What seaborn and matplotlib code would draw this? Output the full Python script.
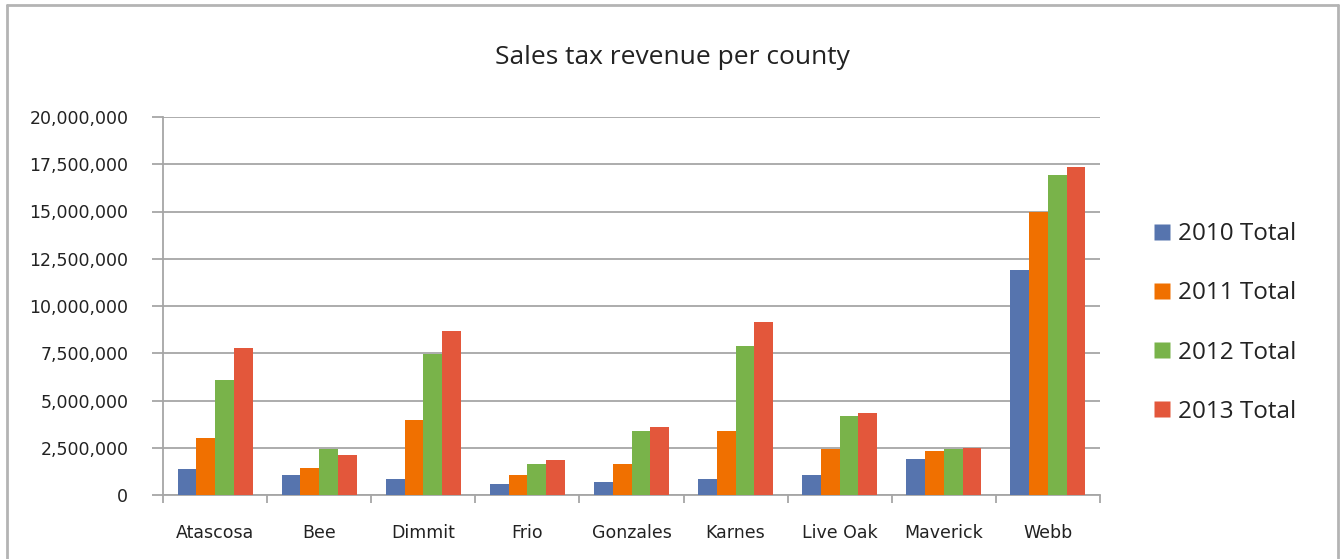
import matplotlib
matplotlib.use("Agg")
import matplotlib.pyplot as plt
from matplotlib.lines import Line2D
import seaborn as sns
import pandas as pd

counties = ["Atascosa", "Bee", "Dimmit", "Frio", "Gonzales", "Karnes",
            "Live Oak", "Maverick", "Webb"]
series_names = ["2010 Total", "2011 Total", "2012 Total", "2013 Total"]
total_2010 = [1350000, 1070000, 860000, 580000, 670000, 860000, 1050000, 1930000, 11880000]
total_2011 = [3020000, 1440000, 3980000, 1050000, 1630000, 3380000, 2420000, 2320000, 14960000]
total_2012 = [6100000, 2460000, 7470000, 1630000, 3380000, 7880000, 4160000, 2460000, 16930000]
total_2013 = [7770000, 2140000, 8670000, 1830000, 3580000, 9140000, 4350000, 2510000, 17350000]
y_ticks = [0, 2500000, 5000000, 7500000, 10000000, 12500000, 15000000, 17500000, 20000000]

colors = ["#5674AE", "#F07000", "#79B34A", "#E3573B"]

rows = []
for name, vals in zip(series_names, [total_2010, total_2011, total_2012, total_2013]):
    for c, v in zip(counties, vals):
        rows.append({"County": c, "Series": name, "Revenue": v})
df = pd.DataFrame(rows)

sns.set_theme(style="white")
plt.rcParams["font.family"] = ["DejaVu Sans"]

fig = plt.figure(figsize=(13.4, 5.59), dpi=100)
ax = fig.add_axes([163 / 1340, 64 / 559, 937 / 1340, 378 / 559])

sns.barplot(data=df, x="County", y="Revenue", hue="Series", order=counties,
            hue_order=series_names, palette=colors, width=0.72, gap=0,
            saturation=1, errorbar=None, ax=ax, legend=False, zorder=3,
            edgecolor="none")

ax.set_xlim(-0.5, len(counties) - 0.5)
ax.set_ylim(0, 20000000)
ax.set_yticks(y_ticks)
ax.set_yticklabels([f"{v:,}" for v in y_ticks], fontsize=12.5, color="#222222")
ax.set_xticks(range(len(counties)))
ax.set_xticklabels(counties, fontsize=12.5, color="#222222")
ax.set_xlabel("")
ax.set_ylabel("")

grid_col = "#A6A6A6"
ax.yaxis.grid(True, color=grid_col, linewidth=1.3, zorder=0)
ax.set_axisbelow(True)
for side in ["top", "right"]:
    ax.spines[side].set_visible(False)
for side in ["left", "bottom"]:
    ax.spines[side].set_color(grid_col)
    ax.spines[side].set_linewidth(1.3)

ax.tick_params(axis="y", length=8, width=1.3, color=grid_col, pad=17, direction="out", left=True)
ax.tick_params(axis="x", length=0, pad=21)
# category boundary ticks on the x axis
ax.set_xticks([i - 0.5 for i in range(len(counties) + 1)], minor=True)
ax.tick_params(axis="x", which="minor", length=6, width=1.3, color=grid_col, bottom=True)

fig.text(672 / 1340, 1 - 58 / 559, "Sales tax revenue per county",
         ha="center", va="center", fontsize=19, family="Open Sans", color="#222222")

handles = [Line2D([0], [0], marker="s", linestyle="none", markersize=12,
                  markerfacecolor=c, markeredgecolor="none") for c in colors]
fig.legend(handles, series_names, loc="center left",
           bbox_to_anchor=(1134 / 1340, 1 - 323 / 559), frameon=False,
           prop={"family": "Open Sans", "size": 17.5}, labelspacing=1.45,
           handletextpad=0.2, handlelength=0.9, borderpad=0.2,
           labelcolor="#222222")

# outer chart frame
frame_col = "#B4B4B4"
fig.add_artist(Line2D([7 / 1340, 7 / 1340], [0, 1 - 5 / 559], color=frame_col, lw=2, transform=fig.transFigure))
fig.add_artist(Line2D([7 / 1340, 1338 / 1340], [1 - 5 / 559, 1 - 5 / 559], color=frame_col, lw=2, transform=fig.transFigure))
fig.add_artist(Line2D([1338 / 1340, 1338 / 1340], [0, 1 - 5 / 559], color=frame_col, lw=2, transform=fig.transFigure))

fig.savefig("out.png", dpi=100, facecolor="white")
